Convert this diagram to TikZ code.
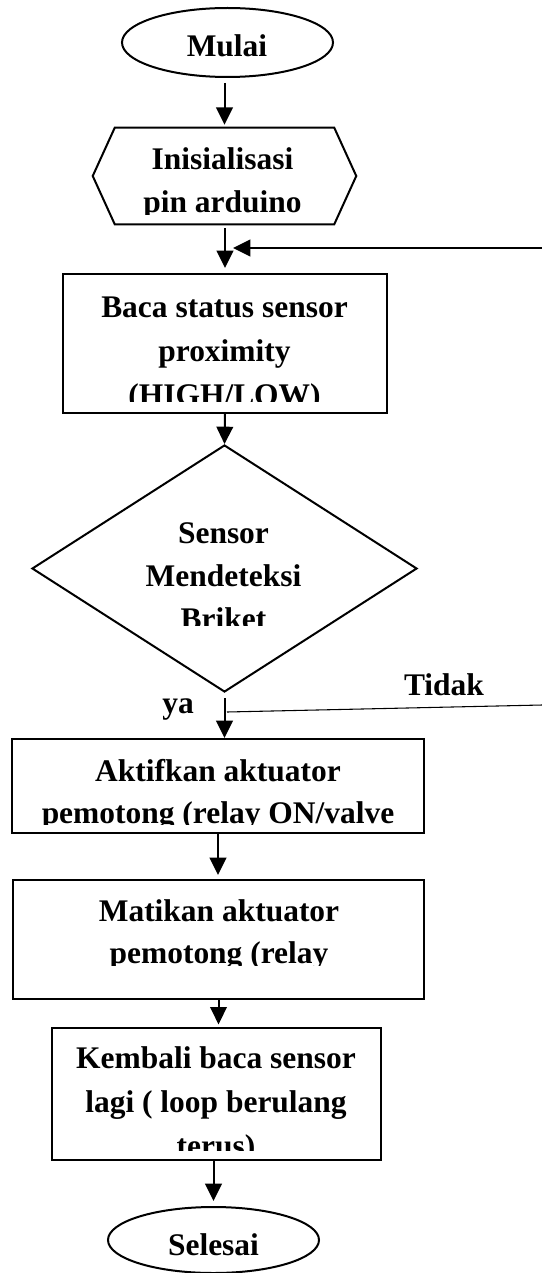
\documentclass[tikz,border=0pt]{standalone}
\usepackage{fontspec}
\setmainfont{Liberation Serif}
\usetikzlibrary{shapes.geometric,arrows.meta}
\begin{document}
\begin{tikzpicture}[x=0.75pt,y=-0.75pt,
  every node/.style={font=\fontsize{23.6}{28}\selectfont\bfseries},
  shapebox/.style={draw,line width=1.5pt,inner sep=0pt},
  txt/.style={anchor=base,inner sep=0pt},
  arr/.style={line width=1.5pt,-{Triangle[length=13pt 0 0,width=12.5pt 0 0]}},
  thinline/.style={line width=0.8pt},
  ]
\useasboundingbox (0,0) rectangle (542,1273);

% shapes
\node[shapebox,ellipse,minimum width=158.25pt,minimum height=51.75pt] (mulai) at (227.5,42.5) {};
\node[inner sep=0pt,minimum width=197.25pt,minimum height=72pt] (hex) at (224.5,176) {};
\draw[line width=1.5pt] (hex.west) -- ([xshift=16.5pt]hex.north west) -- ([xshift=-16.5pt]hex.north east)
  -- (hex.east) -- ([xshift=-16.5pt]hex.south east) -- ([xshift=16.5pt]hex.south west) -- cycle;
\node[shapebox,minimum width=243pt,minimum height=104.25pt] (baca) at (225,343.5) {};
\node[shapebox,diamond,minimum width=288.75pt,minimum height=185.25pt] (dec) at (224.5,568.5) {};
\node[shapebox,minimum width=309pt,minimum height=70.5pt] (aktif) at (218,786) {};
\node[shapebox,minimum width=308.25pt,minimum height=89.25pt] (mat) at (218.5,939.5) {};
\node[shapebox,minimum width=246.75pt,minimum height=99pt] (kem) at (216.5,1094) {};
\node[shapebox,ellipse,minimum width=158.25pt,minimum height=49.5pt] (sel) at (213.5,1240) {};

% texts
\node[txt] (tmulai) at (227,57) {Mulai};
\begin{scope}
  \clip (0,128) rectangle (542,215);
  \node[txt] (thexa) at (222.5,170) {Inisialisasi};
  \node[txt] (thexb) at (222.5,213) {pin arduino};
\end{scope}
\begin{scope}
  \clip (0,274) rectangle (542,401);
  \node[txt] (tbacaa) at (224.5,317) {Baca status sensor};
  \node[txt] (tbacab) at (224.5,361) {proximity};
  \node[txt] (tbacac) at (224.5,405) {(HIGH/LOW)};
\end{scope}
\begin{scope}
  \clip (0,445) rectangle (542,625);
  \node[txt] (tdeca) at (223.5,543) {Sensor};
  \node[txt] (tdecb) at (223.5,586) {Mendeteksi};
  \node[txt] (tdecc) at (223.5,629) {Briket};
\end{scope}
\begin{scope}
  \clip (0,739) rectangle (542,824);
  \node[txt] (takta) at (218,781) {Aktifkan aktuator};
  \node[txt] (taktb) at (218,823) {pemotong (relay ON/valve};
\end{scope}
\begin{scope}
  \clip (0,880) rectangle (542,965);
  \node[txt] (tmata) at (219,921) {Matikan aktuator};
  \node[txt] (tmatb) at (219,963) {pemotong (relay};
\end{scope}
\begin{scope}
  \clip (0,1028) rectangle (542,1150);
  \node[txt] (tkema) at (216,1068) {Kembali baca sensor};
  \node[txt] (tkemb) at (216,1112) {lagi ( loop berulang};
  \node[txt] (tkemc) at (216,1156) {terus)};
\end{scope}
\node[txt] (tsel) at (213.5,1255) {Selesai};
\node[txt] (lya) at (178,713) {ya};
\node[txt] (ltidak) at (444,695) {Tidak};

% connectors
\coordinate (loopR) at (542,248);
\coordinate (loopT) at (233,248);
\coordinate (tidakL) at (227,712);
\coordinate (tidakR) at (542,705);

\draw[arr,shorten <=3.75pt,shorten >=2.25pt] (mulai.south -| hex.north) -- (hex.north);
\draw[arr,shorten <=3pt,shorten >=3.75pt] (hex.south -| baca.north) -- (baca.north);
\draw[arr] (loopR) -- (loopT);
\draw[arr] (baca.south) -- (dec.north);
\draw[arr,shorten <=3.75pt] (dec.south) -- (dec.south |- aktif.north);
\draw[thinline] (tidakL) -- (tidakR);
\draw[arr,shorten >=3pt] (aktif.south) -- (aktif.south |- mat.north);
\draw[arr,shorten >=2pt] (mat.south) -- (mat.south |- kem.north);
\draw[arr,shorten >=3.75pt] (kem.south -| sel.north) -- (sel.north);
\end{tikzpicture}
\end{document}
